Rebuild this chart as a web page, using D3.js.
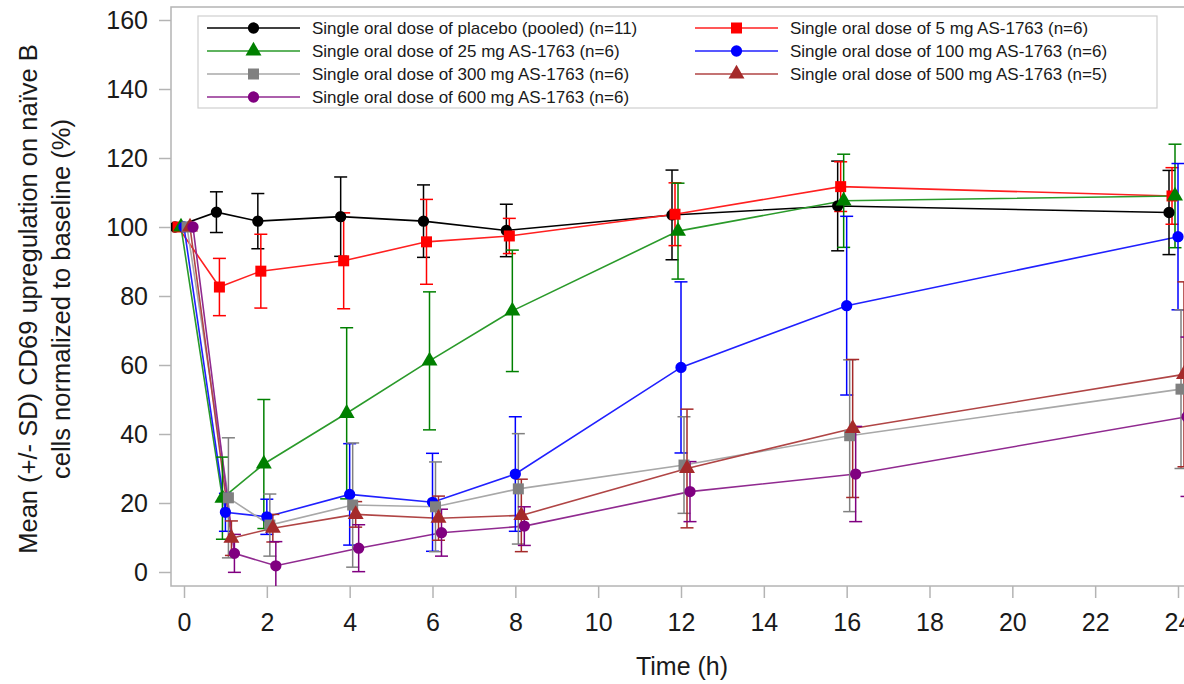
<!DOCTYPE html>
<html><head><meta charset="utf-8">
<script src="https://cdn.jsdelivr.net/npm/d3@7"></script>
<style>html,body{margin:0;padding:0;background:#fff;}svg{display:block;}</style>
</head><body>
<svg id="chart" width="1184" height="684"></svg>
<script>
const times = [0, 1, 2, 4, 6, 8, 12, 16, 24];
const groupLabels = [
  "Single oral dose of placebo (pooled) (n=11)",
  "Single oral dose of 5 mg AS-1763 (n=6)",
  "Single oral dose of 25 mg AS-1763 (n=6)",
  "Single oral dose of 100 mg AS-1763 (n=6)",
  "Single oral dose of 300 mg AS-1763 (n=6)",
  "Single oral dose of 500 mg AS-1763 (n=5)",
  "Single oral dose of 600 mg AS-1763 (n=6)"
];
const meanPlacebo = [100, 104.3, 101.7, 103.0, 101.7, 99.0, 103.5, 106.1, 104.2];
const sdPlacebo   = [0, 5.9, 8.0, 11.5, 10.5, 7.6, 13.0, 13.0, 12.2];
const mean5   = [100, 82.6, 87.2, 90.2, 95.7, 97.4, 103.7, 111.7, 109.0];
const sd5     = [0, 8.3, 10.7, 13.9, 12.3, 5.1, 9.1, 7.2, 8.2];
const mean25  = [100, 21.4, 31.3, 46.0, 61.2, 75.7, 98.8, 107.6, 109.0];
const sd25    = [0, 11.9, 18.7, 24.8, 20.0, 17.6, 13.9, 13.5, 15.0];
const mean100 = [100, 17.3, 16.0, 22.5, 20.2, 28.4, 59.3, 77.2, 97.2];
const sd100   = [0, 5.5, 5.1, 14.7, 14.2, 16.6, 24.8, 25.9, 21.2];
const mean300 = [100, 21.5, 13.6, 19.4, 18.9, 24.1, 31.0, 39.5, 53.0];
const sd300   = [0, 17.4, 9.0, 18.0, 13.0, 16.0, 14.0, 22.0, 23.0];
const mean500 = [100, 9.8, 12.7, 16.7, 15.6, 16.4, 30.0, 41.6, 57.3];
const sd500   = [0, 5.0, 4.0, 3.7, 6.4, 10.5, 17.2, 20.0, 26.8];
const mean600 = [100, 5.4, 1.8, 6.9, 11.4, 13.3, 23.3, 28.4, 45.0];
const sd600   = [0, 5.5, 7.0, 6.8, 6.8, 5.6, 8.7, 13.8, 23.1];
const xTicks = [0, 2, 4, 6, 8, 10, 12, 14, 16, 18, 20, 22, 24];
const yTicks = [0, 20, 40, 60, 80, 100, 120, 140, 160];

const means = [meanPlacebo, mean5, mean25, mean100, mean300, mean500, mean600];
const sds = [sdPlacebo, sd5, sd25, sd100, sd300, sd500, sd600];
const markerColors = ["#000000", "#ff0000", "#008000", "#0000ff", "#808080", "#a52a2a", "#800080"];
const lineColors   = ["#000000", "#ff2020", "#2a9a2a", "#2020ff", "#a8a8a8", "#b04545", "#902a90"];
const shapes = [d3.symbolCircle, d3.symbolSquare, d3.symbolTriangle, d3.symbolCircle, d3.symbolSquare, d3.symbolTriangle, d3.symbolCircle];
const shapeSize = s => s === d3.symbolCircle ? 100 : (s === d3.symbolSquare ? 121 : 110);

const svg = d3.select("#chart");
const frame = {left: 171, right: 1196, top: 7, bottom: 586};
const x = d3.scaleLinear().domain([0, 24]).range([184, 1178]);
const y = d3.scaleLinear().domain([0, 160]).range([572, 20]);
const jitter = d3.scalePoint().domain(d3.range(groupLabels.length)).range([-9, 9]);

const fontMain = "'Liberation Sans', Arial, sans-serif";

svg.append("defs").append("clipPath").attr("id", "clip")
  .append("rect").attr("x", frame.left).attr("y", frame.top)
  .attr("width", frame.right - frame.left).attr("height", frame.bottom - frame.top);

// frame
svg.append("rect").attr("x", frame.left).attr("y", frame.top)
  .attr("width", frame.right - frame.left).attr("height", frame.bottom - frame.top)
  .attr("fill", "none").attr("stroke", "#b4b4b4").attr("stroke-width", 1.5);

// y axis
const yAxis = d3.axisLeft(y).tickValues(yTicks).tickSize(12).tickPadding(11);
const gy = svg.append("g").attr("transform", `translate(${frame.left},0)`).call(yAxis);
gy.select(".domain").remove();
gy.selectAll(".tick line").attr("stroke", "#b4b4b4").attr("stroke-width", 1.5);
gy.selectAll(".tick text").attr("font-family", fontMain).attr("font-size", 25).attr("fill", "#1a1a1a");

// x axis
const xAxis = d3.axisBottom(x).tickValues(xTicks).tickSize(12).tickPadding(15);
const gx = svg.append("g").attr("transform", `translate(0,${frame.bottom})`).call(xAxis);
gx.select(".domain").remove();
gx.selectAll(".tick line").attr("stroke", "#b4b4b4").attr("stroke-width", 1.5);
gx.selectAll(".tick text").attr("font-family", fontMain).attr("font-size", 25).attr("fill", "#1a1a1a");

// axis titles
svg.append("text").attr("x", 682).attr("y", 675).attr("text-anchor", "middle")
  .attr("font-family", fontMain).attr("font-size", 25).attr("fill", "#1a1a1a").text("Time (h)");
const yt = svg.append("text").attr("transform", "translate(0,299) rotate(-90)")
  .attr("text-anchor", "middle").attr("font-family", fontMain).attr("font-size", 25.5).attr("fill", "#1a1a1a");
yt.append("tspan").attr("x", 0).attr("y", 37).text("Mean (+/- SD) CD69 upregulation on naïve B");
yt.append("tspan").attr("x", 0).attr("y", 70).text("cells normalized to baseline (%)");

// data
const plot = svg.append("g").attr("clip-path", "url(#clip)");
const rows = groupLabels.map((g, gi) => times.map((t, ti) => ({t, m: means[gi][ti], sd: sds[gi][ti], gi})));
const px = d => x(d.t) + jitter(d.gi);

const line = d3.line().x(px).y(d => y(d.m));
rows.forEach((r, gi) => {
  plot.append("path").datum(r).attr("d", line).attr("fill", "none")
    .attr("stroke", lineColors[gi]).attr("stroke-width", 1.6);
});
rows.forEach((r, gi) => {
  const g = plot.append("g").attr("stroke", markerColors[gi]).attr("stroke-width", 1.5);
  r.filter(d => d.sd > 0).forEach(d => {
    const cx = px(d), y1 = y(d.m + d.sd), y2 = y(d.m - d.sd);
    g.append("line").attr("x1", cx).attr("x2", cx).attr("y1", y1).attr("y2", y2);
    g.append("line").attr("x1", cx - 6.5).attr("x2", cx + 6.5).attr("y1", y1).attr("y2", y1);
    g.append("line").attr("x1", cx - 6.5).attr("x2", cx + 6.5).attr("y1", y2).attr("y2", y2);
  });
});
rows.forEach((r, gi) => {
  const sym = d3.symbol().type(shapes[gi]).size(shapeSize(shapes[gi]));
  plot.append("g").selectAll("path").data(r).join("path")
    .attr("transform", d => `translate(${px(d)},${y(d.m)})`)
    .attr("d", sym).attr("fill", markerColors[gi]);
});

// legend
const legend = svg.append("g");
legend.append("rect").attr("x", 198).attr("y", 16).attr("width", 959).attr("height", 92)
  .attr("fill", "#fff").attr("stroke", "#cfcfcf").attr("stroke-width", 1.2);
const colX = [207, 695];
const lineLen = [93, 83];
const rowY = d3.scalePoint().domain([0, 1, 2, 3]).range([28, 97]);
groupLabels.forEach((lab, gi) => {
  const c = gi % 2, rr = Math.floor(gi / 2);
  const ly = rowY(rr), lx = colX[c];
  legend.append("line").attr("x1", lx).attr("x2", lx + lineLen[c]).attr("y1", ly).attr("y2", ly)
    .attr("stroke", lineColors[gi]).attr("stroke-width", 1.6);
  legend.append("path").attr("transform", `translate(${lx + lineLen[c] / 2},${ly})`)
    .attr("d", d3.symbol().type(shapes[gi]).size(shapeSize(shapes[gi]))).attr("fill", markerColors[gi]);
  legend.append("text").attr("x", lx + lineLen[c] + 12).attr("y", ly + 6)
    .attr("font-family", fontMain).attr("font-size", 17).attr("fill", "#1a1a1a").text(lab);
});
</script>
</body></html>
